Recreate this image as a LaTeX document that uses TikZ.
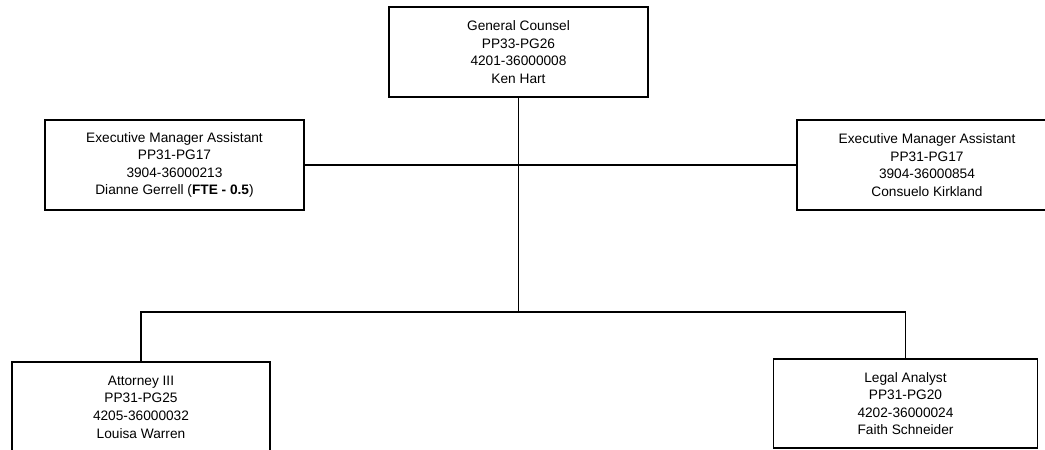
\documentclass[tikz,border=0pt]{standalone}
\usepackage{fontspec}
\setmainfont{Liberation Sans}
\begin{document}
\begin{tikzpicture}[x=1pt,y=-1pt,
  posbox/.style={draw=black, line width=1.1pt, fill=white, align=center,
    font=\fontsize{13.7}{17.6}\selectfont, inner sep=0pt},
  conn/.style={line width=1.1pt, draw=black}]
\useasboundingbox (0,0) rectangle (1045,450);
\clip (0,0) rectangle (1045,450);
\node[posbox, minimum width=259pt, minimum height=90pt] (gc) at (518.5,52) {General Counsel\\PP33-PG26\\4201-36000008\\Ken Hart};
\node[posbox, minimum width=259pt, minimum height=90pt] (ema1) at (174.5,165) {Executive Manager Assistant\\PP31-PG17\\3904-36000213\\Dianne Gerrell (\textbf{FTE - 0.5})};
\node[posbox, minimum width=260pt, minimum height=90pt] (ema2) at (927,165) {Executive Manager Assistant\\PP31-PG17\\3904-36000854\\Consuelo Kirkland};
\node[posbox, minimum width=258pt, minimum height=90pt] (att) at (141,407) {Attorney III\\PP31-PG25\\4205-36000032\\Louisa Warren};
\node[posbox, minimum width=264pt, minimum height=89pt] (la) at (905.5,403.5) {Legal Analyst\\PP31-PG20\\4202-36000024\\Faith Schneider};
\coordinate (bus) at (518.5,312);
\draw[conn] (ema1.east) -- (ema2.west);
\draw[conn] (gc.south) -- (bus);
\draw[conn] (att.north) |- (bus) -| (la.north);
\end{tikzpicture}
\end{document}
